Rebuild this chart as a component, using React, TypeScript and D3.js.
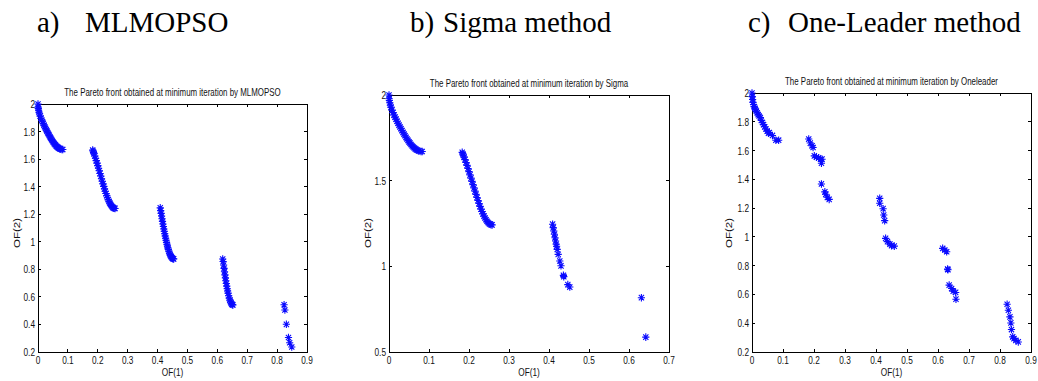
import React from "react";
import * as d3 from "d3";

// ---------- DATA ----------
const panelHeadings = ["a)", "b)", "c)"];
const methodNames = ["MLMOPSO", "Sigma method", "One-Leader method"];
const plotTitles = [
  "The Pareto front obtained at minimum iteration by MLMOPSO",
  "The Pareto front obtained at minimum iteration by Sigma",
  "The Pareto front obtained at minimum iteration by Oneleader",
];

const xTicksA = [0, 0.1, 0.2, 0.3, 0.4, 0.5, 0.6, 0.7, 0.8, 0.9];
const yTicksA = [0.2, 0.4, 0.6, 0.8, 1, 1.2, 1.4, 1.6, 1.8, 2];
const xTicksB = [0, 0.1, 0.2, 0.3, 0.4, 0.5, 0.6, 0.7];
const yTicksB = [0.5, 1, 1.5, 2];
const xTicksC = [0, 0.1, 0.2, 0.3, 0.4, 0.5, 0.6, 0.7, 0.8, 0.9];
const yTicksC = [0.2, 0.4, 0.6, 0.8, 1, 1.2, 1.4, 1.6, 1.8, 2];

// dense front piece 1 (shared shape read from a and b)
const frontPiece1: [number, number][] = [
  [0, 2], [0.0005, 1.978], [0.001, 1.968], [0.002, 1.955], [0.0035, 1.94], [0.005, 1.929],
  [0.0075, 1.912], [0.01, 1.897], [0.0125, 1.883], [0.015, 1.871], [0.0175, 1.859],
  [0.02, 1.847], [0.0225, 1.835], [0.025, 1.824], [0.0275, 1.813], [0.03, 1.803],
  [0.0325, 1.792], [0.035, 1.782], [0.0375, 1.772], [0.04, 1.762], [0.0425, 1.753],
  [0.045, 1.743], [0.0475, 1.735], [0.05, 1.726], [0.0525, 1.719], [0.055, 1.711],
  [0.0575, 1.704], [0.06, 1.698], [0.0625, 1.692], [0.065, 1.687], [0.0675, 1.683],
  [0.07, 1.679], [0.0725, 1.676], [0.075, 1.673], [0.08, 1.67], [0.083, 1.67],
];
const frontPiece2: [number, number][] = [
  [0.183, 1.665], [0.1845, 1.657], [0.186, 1.648], [0.1875, 1.639], [0.19, 1.623],
  [0.1925, 1.606], [0.195, 1.589], [0.1975, 1.571], [0.2, 1.553], [0.2025, 1.534],
  [0.205, 1.515], [0.2075, 1.496], [0.21, 1.477], [0.2125, 1.458], [0.215, 1.439],
  [0.2175, 1.42], [0.22, 1.402], [0.2225, 1.384], [0.225, 1.367], [0.2275, 1.35],
  [0.23, 1.334], [0.2325, 1.32], [0.235, 1.306], [0.2375, 1.293], [0.24, 1.282],
  [0.2425, 1.272], [0.245, 1.263], [0.2475, 1.256], [0.25, 1.25], [0.2525, 1.246],
  [0.255, 1.243], [0.2578, 1.242],
];

const mlmopsoFront: [number, number][] = [
  ...frontPiece1,
  ...frontPiece2,
  [0.409, 1.246], [0.4105, 1.226], [0.412, 1.206], [0.4135, 1.187], [0.415, 1.167],
  [0.4165, 1.148], [0.418, 1.129], [0.4195, 1.111], [0.421, 1.093], [0.4225, 1.076],
  [0.424, 1.058], [0.4255, 1.042], [0.427, 1.026], [0.4285, 1.011], [0.43, 0.996],
  [0.4315, 0.982], [0.433, 0.969], [0.4345, 0.957], [0.436, 0.945], [0.438, 0.931],
  [0.44, 0.918], [0.442, 0.907], [0.444, 0.898], [0.446, 0.89], [0.448, 0.884],
  [0.45, 0.879], [0.452, 0.877], [0.454, 0.876],
  [0.618, 0.875], [0.6195, 0.857], [0.621, 0.831], [0.6225, 0.807], [0.624, 0.783],
  [0.6255, 0.76], [0.627, 0.738], [0.6285, 0.717], [0.63, 0.697], [0.6315, 0.678],
  [0.633, 0.659], [0.6345, 0.643], [0.636, 0.627], [0.638, 0.608], [0.64, 0.591],
  [0.642, 0.577], [0.644, 0.565], [0.646, 0.556], [0.648, 0.548], [0.65, 0.544],
  [0.652, 0.542],
  [0.8233, 0.543], [0.826, 0.505], [0.831, 0.401], [0.838, 0.305], [0.842, 0.267],
  [0.849, 0.236],
];

const sigmaFront: [number, number][] = [
  ...frontPiece1,
  ...frontPiece2,
  [0.409, 1.246], [0.4105, 1.226], [0.412, 1.206], [0.4135, 1.187], [0.415, 1.167],
  [0.4165, 1.148], [0.418, 1.129], [0.419, 1.117], [0.4205, 1.099], [0.423, 1.07],
  [0.427, 1.031], [0.43, 1.003], [0.436, 0.947], [0.437, 0.94], [0.447, 0.893],
  [0.452, 0.879],
  [0.631, 0.817], [0.642, 0.587],
];

const oneLeaderFront: [number, number][] = [
  [0, 2], [0.001, 1.975], [0.002, 1.955], [0.003, 1.935], [0.005, 1.92], [0.007, 1.905],
  [0.009, 1.895], [0.011, 1.885], [0.014, 1.875], [0.017, 1.862], [0.02, 1.85],
  [0.023, 1.84], [0.027, 1.83], [0.03, 1.81], [0.034, 1.795], [0.037, 1.78],
  [0.041, 1.765], [0.045, 1.75], [0.049, 1.735], [0.053, 1.72], [0.056, 1.725],
  [0.066, 1.705], [0.077, 1.672], [0.086, 1.672],
  [0.183, 1.68], [0.188, 1.652], [0.194, 1.633], [0.197, 1.621], [0.201, 1.563],
  [0.208, 1.554], [0.215, 1.549], [0.221, 1.54], [0.226, 1.54], [0.224, 1.512],
  [0.224, 1.368], [0.235, 1.313], [0.238, 1.296], [0.243, 1.275], [0.249, 1.261],
  [0.412, 1.268], [0.412, 1.234], [0.423, 1.196], [0.425, 1.152], [0.428, 1.113],
  [0.431, 0.99], [0.437, 0.967], [0.445, 0.95], [0.45, 0.939], [0.459, 0.936],
  [0.615, 0.92], [0.622, 0.909], [0.628, 0.897], [0.631, 0.776], [0.632, 0.772],
  [0.636, 0.665], [0.644, 0.641], [0.649, 0.623], [0.657, 0.614], [0.658, 0.567],
  [0.823, 0.532], [0.827, 0.49], [0.832, 0.444], [0.835, 0.402], [0.837, 0.356],
  [0.841, 0.305], [0.845, 0.293], [0.851, 0.281], [0.859, 0.27],
];

// ---------- LAYOUT ----------
const W = 1038;
const H = 381;
const FONT = "'Liberation Sans', Arial, sans-serif";
const SERIF = "'Liberation Serif', 'Times New Roman', serif";
const SX = 0.72;
const BLUE = "#0a0aff";
const STAR = "M-3.6,0H3.6M0,-3.8V3.8M-2.6,-2.7L2.6,2.7M-2.6,2.7L2.6,-2.7";

type Panel = {
  box: { l: number; r: number; t: number; b: number };
  xDomain: [number, number];
  yDomain: [number, number];
  xTicks: number[];
  yTicks: number[];
  data: [number, number][];
  title: string;
  titleY: number;
  yLabelX: number;
};

const panels: Panel[] = [
  {
    box: { l: 38, r: 307, t: 104, b: 352 },
    xDomain: [0, 0.9], yDomain: [0.2, 2],
    xTicks: xTicksA, yTicks: yTicksA, data: mlmopsoFront,
    title: plotTitles[0], titleY: 96, yLabelX: 20,
  },
  {
    box: { l: 389, r: 669, t: 95, b: 352 },
    xDomain: [0, 0.7], yDomain: [0.5, 2],
    xTicks: xTicksB, yTicks: yTicksB, data: sigmaFront,
    title: plotTitles[1], titleY: 87, yLabelX: 371,
  },
  {
    box: { l: 752, r: 1031, t: 93, b: 352 },
    xDomain: [0, 0.9], yDomain: [0.2, 2],
    xTicks: xTicksC, yTicks: yTicksC, data: oneLeaderFront,
    title: plotTitles[2], titleY: 85, yLabelX: 732,
  },
];

const headingPos = [
  { lx: 37, nx: 85 },
  { lx: 410, nx: 443 },
  { lx: 748, nx: 788 },
];

const fmt = (v: number) => String(+v.toFixed(1));

function Txt(props: {
  x: number; y: number; children: React.ReactNode; anchor?: string; size?: number; rotate?: boolean;
}) {
  const { x, y, children, anchor = "middle", size = 11.5, rotate } = props;
  return (
    <text
      transform={`translate(${x},${y}) scale(${SX},1)${rotate ? " rotate(-90)" : ""}`}
      textAnchor={anchor}
      fontFamily={FONT}
      fontSize={size}
      fill="#111"
    >
      {children}
    </text>
  );
}

function Chart({ p }: { p: Panel }) {
  const { box } = p;
  const x = d3.scaleLinear().domain(p.xDomain).range([box.l, box.r]);
  const y = d3.scaleLinear().domain(p.yDomain).range([box.b, box.t]);
  const tl = 3;
  const midY = 233;
  return (
    <g>
      <rect x={box.l} y={box.t} width={box.r - box.l} height={box.b - box.t} fill="#fff" stroke="#000" strokeWidth={1} shapeRendering="crispEdges" />
      {p.xTicks.map((t) => (
        <g key={"x" + t}>
          <line x1={x(t)} x2={x(t)} y1={box.b} y2={box.b - tl} stroke="#000" shapeRendering="crispEdges" />
          <line x1={x(t)} x2={x(t)} y1={box.t} y2={box.t + tl} stroke="#000" shapeRendering="crispEdges" />
          <Txt x={x(t)} y={box.b + 12}>{fmt(t)}</Txt>
        </g>
      ))}
      {p.yTicks.map((t) => (
        <g key={"y" + t}>
          <line x1={box.l} x2={box.l + tl} y1={y(t)} y2={y(t)} stroke="#000" shapeRendering="crispEdges" />
          <line x1={box.r} x2={box.r - tl} y1={y(t)} y2={y(t)} stroke="#000" shapeRendering="crispEdges" />
          <Txt x={box.l - 3} y={y(t) + 4} anchor="end">{fmt(t)}</Txt>
        </g>
      ))}
      <g stroke={BLUE} strokeWidth={1.1} fill="none">
        {p.data.map((d, i) => (
          <path key={i} d={STAR} transform={`translate(${x(d[0])},${y(d[1])})`} />
        ))}
      </g>
      <Txt x={(box.l + box.r) / 2} y={p.titleY} size={11}>{p.title}</Txt>
      <Txt x={(box.l + box.r) / 2} y={376}>OF(1)</Txt>
      <Txt x={p.yLabelX} y={midY} rotate>OF(2)</Txt>
    </g>
  );
}

export default function App() {
  return (
    <svg width={W} height={H} style={{ position: "absolute", left: 0, top: 0, background: "#fff" }}>
      <rect width={W} height={H} fill="#fff" />
      {headingPos.map((h, i) => (
        <g key={i} fontFamily={SERIF} fontSize={29} fill="#000">
          <text x={h.lx} y={32}>{panelHeadings[i]}</text>
          <text x={h.nx} y={32}>{methodNames[i]}</text>
        </g>
      ))}
      {panels.map((p, i) => (
        <Chart key={i} p={p} />
      ))}
    </svg>
  );
}
